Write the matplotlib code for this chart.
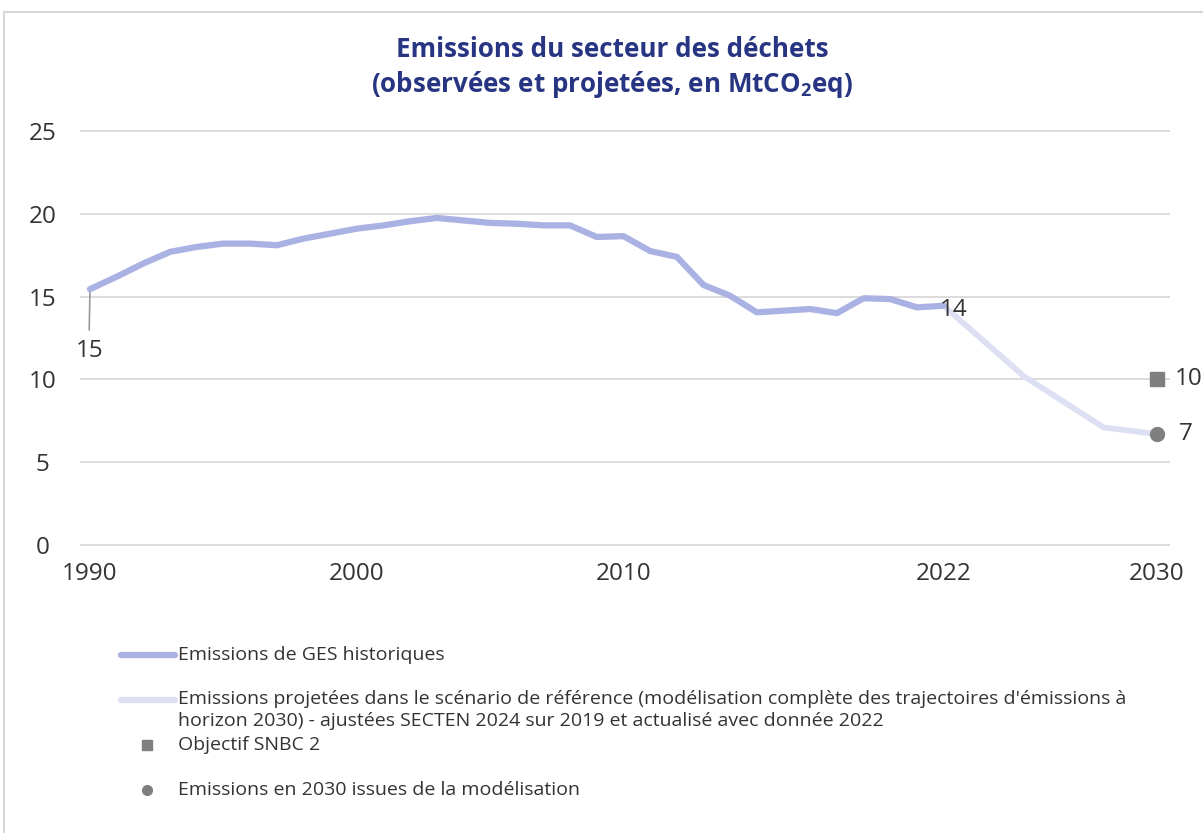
import matplotlib
matplotlib.use("Agg")
import matplotlib.pyplot as plt
from matplotlib.lines import Line2D
from matplotlib.patches import Rectangle

plt.rcParams['font.family'] = ['Open Sans', 'DejaVu Sans']

# ---- data ----
hist_years = list(range(1990, 2023))
hist_values = [15.45, 16.2, 17.0, 17.7, 18.0, 18.2, 18.2, 18.1, 18.5, 18.8,
               19.1, 19.3, 19.55, 19.75, 19.6, 19.45, 19.4, 19.3, 19.3, 18.6,
               18.65, 17.75, 17.4, 15.7, 15.05, 14.05, 14.15, 14.25, 14.0, 14.9,
               14.85, 14.35, 14.45]
proj_years = [2022, 2025, 2028, 2030]
proj_values = [14.45, 10.2, 7.1, 6.7]
snbc_year, snbc_value = 2030, 10.0
model_year, model_value = 2030, 6.7
xticks = [1990, 2000, 2010, 2022, 2030]
yticks = [0, 5, 10, 15, 20, 25]

title = "Emissions du secteur des déchets\n(observées et projetées, en MtCO$_\\mathregular{2}$eq)"
legend_labels = [
    "Emissions de GES historiques",
    "Emissions projetées dans le scénario de référence (modélisation complète des trajectoires d'émissions à",
    "horizon 2030) - ajustées SECTEN 2024 sur 2019 et actualisé avec donnée 2022",
    "Objectif SNBC 2",
    "Emissions en 2030 issues de la modélisation",
]

c_hist = "#A9B2E3"
c_proj = "#DDE0F3"
c_mark = "#7F7F7F"
c_text = "#333333"
c_title = "#283583"

W, H = 1203, 833
fig = plt.figure(figsize=(W / 100, H / 100), dpi=100)

# frame
fig.patches.append(Rectangle((4 / W, -0.1), 1.2, (H - 12) / H + 0.1, transform=fig.transFigure,
                             fill=False, edgecolor="#D6D6D6", linewidth=1.5))

x0_px, x1_px = 80, 1170
y_top_px, y_bot_px = 131, 545
ax = fig.add_axes([x0_px / W, (H - y_bot_px - 2) / H, (x1_px - x0_px) / W, (y_bot_px - y_top_px + 4) / H])
ppy = (1157 - 90) / 40.0
ax.set_xlim(1990 - (90 - x0_px) / ppy, 2030 + (x1_px - 1157) / ppy)
upp = 25 / (y_bot_px - y_top_px)
ax.set_ylim(0 - 2 * upp, 25 + 2 * upp)

for s in ax.spines.values():
    s.set_visible(False)
ax.set_yticks(yticks)
ax.set_xticks(xticks)
ax.yaxis.grid(True, color="#D9D9D9", linewidth=1.3)
ax.set_axisbelow(True)
ax.tick_params(length=0, labelsize=17.5, labelcolor=c_text)
ax.tick_params(axis='y', pad=27)
ax.tick_params(axis='x', pad=11)
for lab in ax.get_yticklabels():
    lab.set_horizontalalignment('center')

ax.plot(proj_years, proj_values, color=c_proj, linewidth=4.2, solid_capstyle='round', zorder=2)
ax.plot(hist_years, hist_values, color=c_hist, linewidth=4.5, solid_capstyle='round',
        solid_joinstyle='round', zorder=3)
ax.plot([snbc_year], [snbc_value], marker='s', color=c_mark, markersize=10, linestyle='none', zorder=4)
ax.plot([model_year], [model_value], marker='o', color=c_mark, markersize=10, linestyle='none', zorder=4)

# data labels
ax.plot([hist_years[0], hist_years[0] - 0.03], [hist_values[0], 13.0], color="#9A9A9A", linewidth=1.2, zorder=2)
ax.text(hist_years[0], 11.7, f"{hist_values[0]:.0f}", fontsize=17.5, color=c_text, ha='center', va='center')
ax.text(hist_years[-1] - 0.15, hist_values[-1] - 0.25, f"{hist_values[-1]:.0f}", fontsize=17.5, color=c_text,
        ha='left', va='center', zorder=5)
ax.annotate(f"{snbc_value:.0f}", (snbc_year, snbc_value), xytext=(13, 0), textcoords='offset points',
            fontsize=17.5, color=c_text, va='center', ha='left', annotation_clip=False)
ax.annotate(f"{model_value:.0f}", (model_year, model_value), xytext=(16, 0), textcoords='offset points',
            fontsize=17.5, color=c_text, va='center', ha='left', annotation_clip=False)

fig.text(612 / W, 1 - 68 / H, title, ha='center', va='center', fontsize=18.7, fontweight='bold',
         color=c_title, linespacing=1.25)

# legend (custom)
def fy(p):
    return 1 - p / H

fig.add_artist(Line2D([121 / W, 175 / W], [fy(655), fy(655)], color=c_hist, linewidth=4.5,
                      solid_capstyle='round', transform=fig.transFigure))
fig.add_artist(Line2D([121 / W, 175 / W], [fy(700), fy(700)], color=c_proj, linewidth=4.5,
                      solid_capstyle='round', transform=fig.transFigure))
fig.add_artist(Line2D([147 / W], [fy(745)], marker='s', color=c_mark, markersize=7, linestyle='none',
                      transform=fig.transFigure))
fig.add_artist(Line2D([147 / W], [fy(790)], marker='o', color=c_mark, markersize=7, linestyle='none',
                      transform=fig.transFigure))
tx = 178 / W
fs = 14
fig.text(tx, fy(655), legend_labels[0], fontsize=fs, color=c_text, va='center', ha='left')
fig.text(tx, fy(699), legend_labels[1], fontsize=fs, color=c_text, va='center', ha='left')
fig.text(tx, fy(721), legend_labels[2], fontsize=fs, color=c_text, va='center', ha='left')
fig.text(tx, fy(745), legend_labels[3], fontsize=fs, color=c_text, va='center', ha='left')
fig.text(tx, fy(790), legend_labels[4], fontsize=fs, color=c_text, va='center', ha='left')

fig.savefig("out.png", dpi=100)
